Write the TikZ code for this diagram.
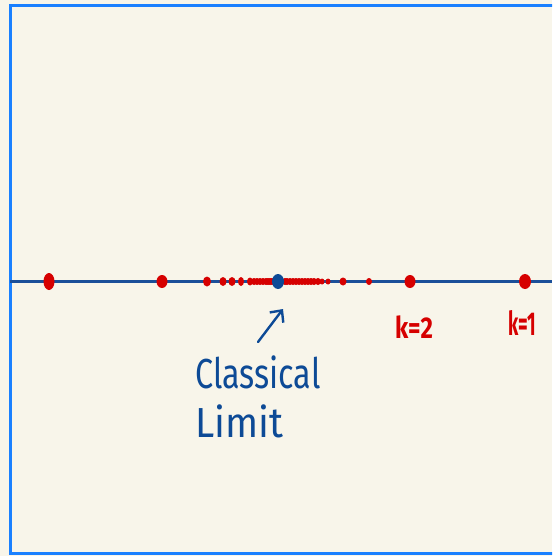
\documentclass[tikz,border=0pt]{standalone}
\usepackage{fontspec}
\setmainfont{Fira Sans}
\usetikzlibrary{arrows.meta,shapes.geometric}
\definecolor{paper}{HTML}{F8F5EA}
\definecolor{frameblue}{HTML}{1A80FF}
\definecolor{axisblue}{HTML}{1B4F99}
\definecolor{inkblue}{HTML}{0D4A96}
\definecolor{dotred}{HTML}{D60000}

\begin{document}
\begin{tikzpicture}[x=1pt,y=-1pt,
  hand/.style={text=inkblue,font=\fontsize{42}{48}\selectfont,inner sep=0pt,anchor=base west},
  klabel/.style={text=dotred,font=\fontsize{30}{34}\selectfont\bfseries,inner sep=0pt,anchor=base west}]
\fill[paper] (0,0) rectangle (552,556);
\useasboundingbox (0,0) rectangle (552,556);
\clip (0,0) rectangle (552,556);

% frame
\draw[frameblue, line width=3pt] (560,5.5) -- (10,5.5) -- (10,553.5) -- (560,553.5);

% axis
\coordinate (axl) at (10,281.5);
\coordinate (axr) at (552,281.5);
\draw[axisblue, line width=2.8pt] (axl) -- (axr);

% red points, left side
\foreach \x/\a/\b in {49/5.5/8.5, 162/5.5/6.5, 207/4/5, 223/3.5/4.5, 232/3.5/4.5,
  241/3/4.5, 250/3/4, 254/3/3.5, 257/3/3.5, 260/3/3.5, 263/3/3.5, 266/3/3.5,
  268/3/3.5, 270/3/3.5, 272/3/3.5}
  \fill[dotred] (\x,281.5) ellipse [x radius=\a pt, y radius=\b pt];

% red points, right side
\foreach \x/\a/\b in {525/6/7.5, 410/5.5/6.5, 369/3/3.5, 343/3.5/4, 328/2.5/3,
  322/2.5/3, 318/3/3.5, 314/3/3.5, 311/3/3.5, 308/3/3.5, 305/3/3.5, 302/3/3.5,
  299/3/3.5, 296/3/3.5, 293/3/3.5, 290/3/3.5, 287/3/3.5, 285/3/3.5}
  \fill[dotred] (\x,281.5) ellipse [x radius=\a pt, y radius=\b pt];

% classical limit
\node[fill=inkblue, ellipse, inner sep=0pt, minimum width=12pt, minimum height=15pt] (cl) at (278,281.5) {};

\node[hand] (cltext) at (195,388) {\scalebox{0.77}[1]{Classical}};
\node[hand] (limtext) at (195,437) {\scalebox{0.92}[1]{Limit}};

\coordinate (arrs) at (258,342);
\coordinate (arre) at (283,309);
\draw[inkblue, line width=2.4pt, line cap=round, -{Straight Barb[length=9pt,width=17pt]}] (arrs) -- (arre);

% labels
\node[klabel] (k2) at (395,338) {\scalebox{0.8}[1]{k=2}};
\node[klabel] (k1) at (508,335) {\scalebox{0.62}[1.1]{k=1}};

\end{tikzpicture}
\end{document}
